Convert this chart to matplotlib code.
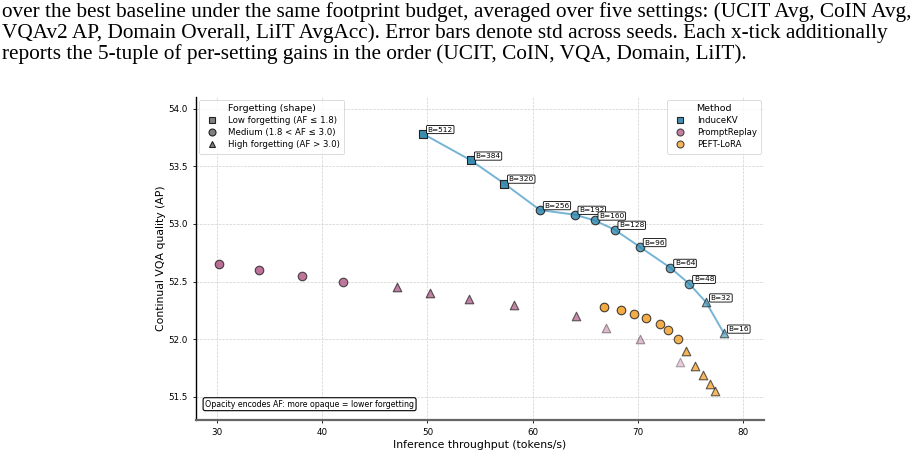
import numpy as np
import matplotlib.pyplot as plt
from matplotlib.lines import Line2D
from matplotlib.colors import to_rgba

# ---- data ----
caption_lines = [
    "over the best baseline under the same footprint budget, averaged over five settings: (UCIT Avg, CoIN Avg,",
    "VQAv2 AP, Domain Overall, LiIT AvgAcc). Error bars denote std across seeds. Each x-tick additionally",
    "reports the 5-tuple of per-setting gains in the order (UCIT, CoIN, VQA, Domain, LiIT).",
]

induce_budget = [512, 384, 320, 256, 192, 160, 128, 96, 64, 48, 32, 16]
induce_tput = [49.6, 54.15, 57.3, 60.7, 64.0, 65.9, 67.8, 70.2, 73.1, 74.9, 76.5, 78.2]
induce_ap = [53.78, 53.55, 53.35, 53.12, 53.08, 53.03, 52.95, 52.80, 52.62, 52.48, 52.32, 52.05]
induce_af = [1.2, 1.4, 1.6, 2.0, 2.1, 2.2, 2.3, 2.4, 2.5, 2.7, 3.4, 3.6]

replay_tput = [30.2, 34.0, 38.1, 42.0, 47.1, 50.2, 54.0, 58.2, 64.1, 67.0, 70.2, 74.0]
replay_ap = [52.65, 52.60, 52.55, 52.50, 52.45, 52.40, 52.35, 52.30, 52.20, 52.10, 52.00, 51.80]
replay_af = [2.6, 2.7, 2.8, 2.9, 3.1, 3.15, 3.2, 3.3, 3.5, 5.0, 5.1, 5.6]

lora_tput = [66.8, 68.4, 69.6, 70.8, 72.1, 72.9, 73.8, 74.6, 75.4, 76.2, 76.9, 77.35]
lora_ap = [52.28, 52.25, 52.22, 52.18, 52.13, 52.08, 52.00, 51.90, 51.77, 51.69, 51.61, 51.55]
lora_af = [2.4, 2.5, 2.6, 2.6, 2.7, 2.8, 2.9, 3.1, 3.2, 3.2, 3.3, 3.3]

colors = {"InduceKV": "#2E86AB", "PromptReplay": "#A23B72", "PEFT-LoRA": "#F18F01"}


def shape_for(af):
    if af <= 1.8:
        return "s"
    if af <= 3.0:
        return "o"
    return "^"


def alpha_for(af):
    # more opaque = lower forgetting
    return float(np.clip(1.15 - 0.16 * af, 0.22, 0.92))


plt.rcParams["font.family"] = "DejaVu Sans"
fig = plt.figure(figsize=(9.23, 4.53), dpi=100)

# caption text from the page above the figure
for i, line in enumerate(caption_lines):
    fig.text(0.002, 1 - (17 + 21 * i) / 453, line, family="Liberation Serif",
             fontsize=15.3, va="baseline", ha="left")

ax = fig.add_axes([196 / 923, 33 / 453, 568 / 923, 323 / 453])

ax.plot(induce_tput, induce_ap, color="#76b4d6", lw=1.4, zorder=2)

series = [
    ("InduceKV", induce_tput, induce_ap, induce_af),
    ("PromptReplay", replay_tput, replay_ap, replay_af),
    ("PEFT-LoRA", lora_tput, lora_ap, lora_af),
]
for name, xs, ys, afs in series:
    for x, y, af in zip(xs, ys, afs):
        a = alpha_for(af)
        ax.scatter([x], [y], marker=shape_for(af), s=38,
                   facecolor=to_rgba(colors[name], a),
                   edgecolor=to_rgba("#222222", min(1.0, a + 0.1)),
                   linewidth=0.8, zorder=3)

for b, x, y in zip(induce_budget, induce_tput, induce_ap):
    ax.annotate(f"B={b}", (x, y), xytext=(3.2, 1.0), textcoords="offset points",
                ha="left", va="bottom", fontsize=5.3, zorder=4,
                bbox=dict(boxstyle="round,pad=0.15", fc="white", ec="black", lw=0.6))

ax.set_xlim(28, 82)
ax.set_ylim(51.3, 54.1)
ax.set_xticks([30, 40, 50, 60, 70, 80])
ax.set_yticks([51.5, 52.0, 52.5, 53.0, 53.5, 54.0])
ax.tick_params(labelsize=6.3, length=2.5, width=0.6)
ax.grid(True, ls="--", lw=0.5, color="#d0d0d0")
ax.set_axisbelow(True)
ax.set_xlabel("Inference throughput (tokens/s)", fontsize=7.8, labelpad=2)
ax.set_ylabel("Continual VQA quality (AP)", fontsize=7.8, labelpad=1.5)
for side in ["top", "right"]:
    ax.spines[side].set_visible(False)
ax.spines["left"].set_linewidth(1.0)
ax.spines["bottom"].set_color("#666666")
ax.spines["bottom"].set_linewidth(1.6)

shape_handles = [
    Line2D([], [], ls="", marker="s", ms=5, mfc="#808080", mec="#222222", mew=0.8,
           label="Low forgetting (AF ≤ 1.8)"),
    Line2D([], [], ls="", marker="o", ms=5, mfc="#808080", mec="#222222", mew=0.8,
           label="Medium (1.8 < AF ≤ 3.0)"),
    Line2D([], [], ls="", marker="^", ms=5, mfc="#808080", mec="#222222", mew=0.8,
           label="High forgetting (AF > 3.0)"),
]
leg1 = ax.legend(handles=shape_handles, title="Forgetting (shape)", loc="upper left",
                 fontsize=6.2, title_fontsize=6.8, frameon=True, borderpad=0.5,
                 handletextpad=0.9, labelspacing=0.35, borderaxespad=0.35)
leg1.get_frame().set_linewidth(0.6)
ax.add_artist(leg1)

method_handles = [
    Line2D([], [], ls="", marker="s", ms=5, mfc=to_rgba(colors["InduceKV"], 0.9), mec="#222222",
           mew=0.8, label="InduceKV"),
    Line2D([], [], ls="", marker="o", ms=5, mfc=to_rgba(colors["PromptReplay"], 0.65), mec="#444444",
           mew=0.8, label="PromptReplay"),
    Line2D([], [], ls="", marker="o", ms=5, mfc=to_rgba(colors["PEFT-LoRA"], 0.65), mec="#444444",
           mew=0.8, label="PEFT-LoRA"),
]
leg2 = ax.legend(handles=method_handles, title="Method", loc="upper right",
                 fontsize=6.2, title_fontsize=6.8, frameon=True, borderpad=0.5,
                 handletextpad=0.9, labelspacing=0.35, borderaxespad=0.35)
leg2.get_frame().set_linewidth(0.6)

ax.text(0.016, 0.035, "Opacity encodes AF: more opaque = lower forgetting",
        transform=ax.transAxes, fontsize=5.7, ha="left", va="bottom",
        bbox=dict(boxstyle="round,pad=0.25", fc="white", ec="black", lw=0.8))

fig.savefig("out.png", dpi=100)
